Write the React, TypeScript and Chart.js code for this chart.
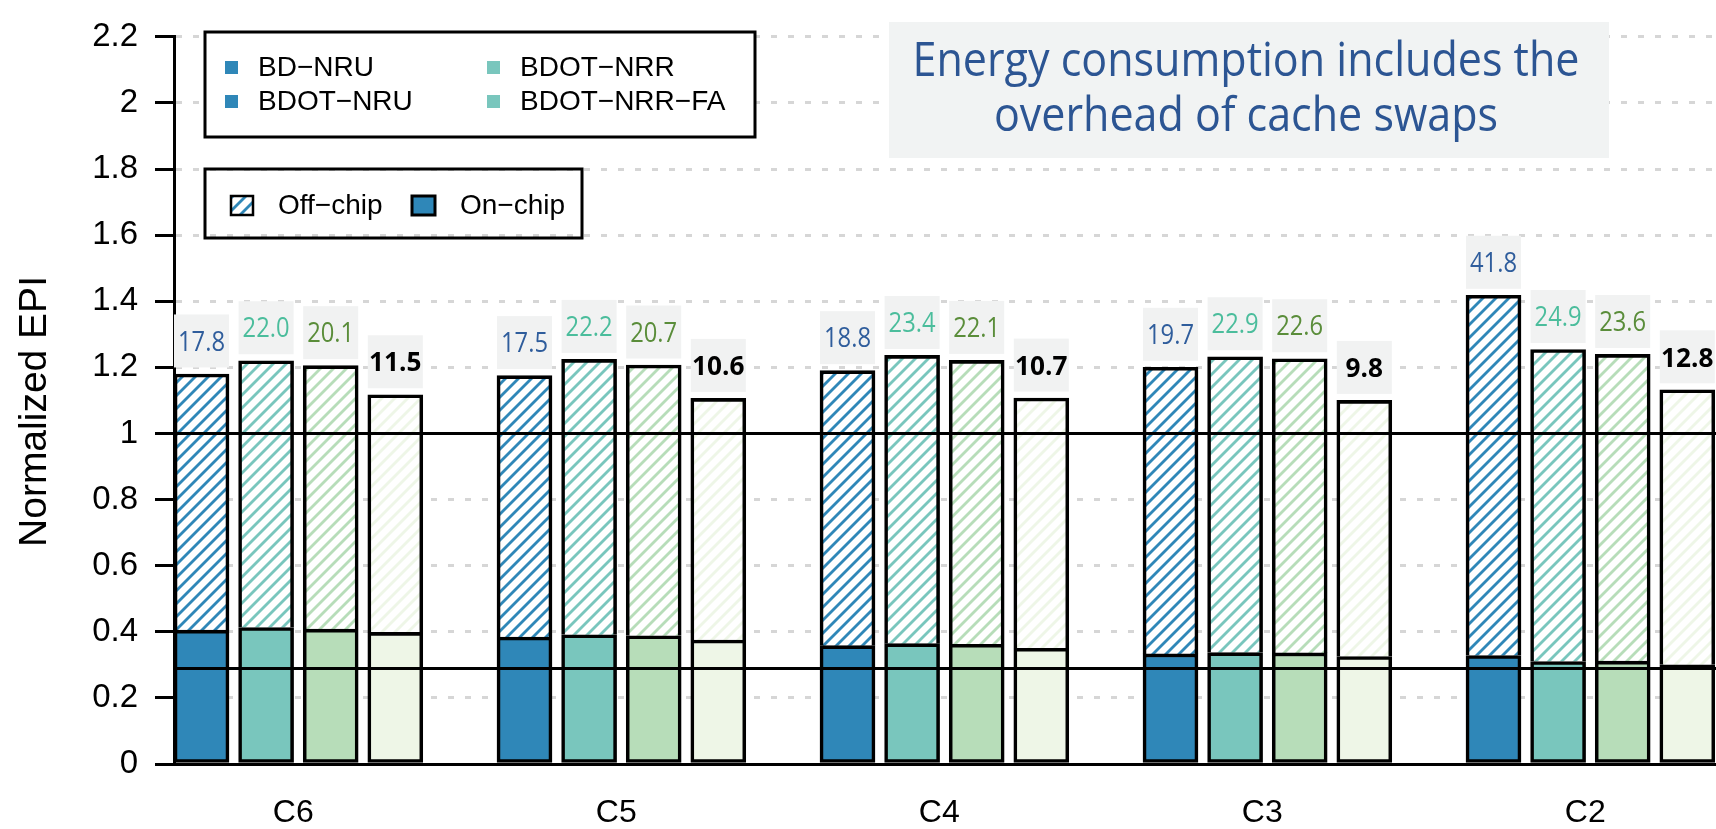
import React, { useEffect, useRef } from 'react';
import { Chart, registerables } from 'chart.js';

Chart.register(...registerables);

// ---------------- data ----------------
const groupLabels = ['C6', 'C5', 'C4', 'C3', 'C2'];
const configNames = ['BD-NRU', 'BDOT-NRU', 'BDOT-NRR', 'BDOT-NRR-FA'];
const partNames = ['Off-chip', 'On-chip'];

// on-chip part of normalized EPI
const onChipBDNRU = [0.405, 0.384, 0.358, 0.333, 0.328];
const onChipBDOTNRU = [0.413, 0.391, 0.364, 0.337, 0.31];
const onChipBDOTNRR = [0.408, 0.388, 0.362, 0.336, 0.311];
const onChipBDOTNRRFA = [0.398, 0.375, 0.35, 0.325, 0.3];

// total normalized EPI (on-chip + off-chip)
const totalBDNRU = [1.18, 1.175, 1.19, 1.2, 1.418];
const totalBDOTNRU = [1.22, 1.224, 1.236, 1.232, 1.254];
const totalBDOTNRR = [1.205, 1.207, 1.221, 1.226, 1.239];
const totalBDOTNRRFA = [1.117, 1.106, 1.107, 1.1, 1.132];

// numbers printed above the bars
const labelBDNRU = [17.8, 17.5, 18.8, 19.7, 41.8];
const labelBDOTNRU = [22.0, 22.2, 23.4, 22.9, 24.9];
const labelBDOTNRR = [20.1, 20.7, 22.1, 22.6, 23.6];
const labelBDOTNRRFA = [11.5, 10.6, 10.7, 9.8, 12.8];

const referenceLines = [1.0, 0.289];
const yMin = 0;
const yMax = 2.2;
const yStep = 0.2;

const annotationLines = ['Energy consumption includes the', 'overhead of cache swaps'];

const onChip = [onChipBDNRU, onChipBDOTNRU, onChipBDOTNRR, onChipBDOTNRRFA];
const totals = [totalBDNRU, totalBDOTNRU, totalBDOTNRR, totalBDOTNRRFA];
const valueLabels = [labelBDNRU, labelBDOTNRU, labelBDOTNRR, labelBDOTNRRFA];

// ---------------- style ----------------
const barColors = ['#2f87b8', '#79c6bd', '#b7ddb9', '#eef6e7'];
const legendColors = ['#2f87b8', '#2f87b8', '#79c6bd', '#79c6bd'];
const labelColors = ['#2f5d9c', '#4bbd9c', '#5a8d3a', '#000000'];
const labelBold = [false, false, false, true];
const SANS = "'Liberation Sans', Arial, Helvetica, sans-serif";
const HUMAN = "'Open Sans', 'Noto Sans', sans-serif";
const slotsPerGroup = 5;
const W = 1716;
const H = 829;
const BW = 3.6;

const minus = (s: string) => s.replace(/-/g, '\u2212');

function makeHatch(ctx: CanvasRenderingContext2D, color: string) {
  const s = 13;
  const c = document.createElement('canvas');
  c.width = s;
  c.height = s;
  const g = c.getContext('2d')!;
  g.fillStyle = '#ffffff';
  g.fillRect(0, 0, s, s);
  g.strokeStyle = color;
  g.lineWidth = 2.8;
  for (const off of [-s, 0, s]) {
    g.beginPath();
    g.moveTo(off - 1, s + 1);
    g.lineTo(off + s + 1, -1);
    g.stroke();
  }
  return ctx.createPattern(c, 'repeat') as CanvasPattern;
}

function condensedText(
  ctx: CanvasRenderingContext2D,
  text: string,
  cx: number,
  baseline: number,
  font: string,
  color: string,
  sx: number
) {
  ctx.save();
  ctx.translate(cx, baseline);
  ctx.scale(sx, 1);
  ctx.font = font;
  ctx.fillStyle = color;
  ctx.textAlign = 'center';
  ctx.textBaseline = 'alphabetic';
  ctx.fillText(text, 0, 0);
  ctx.restore();
}

export default function App() {
  const ref = useRef<HTMLCanvasElement | null>(null);

  useEffect(() => {
    const canvas = ref.current!;
    const ctx0 = canvas.getContext('2d')!;
    const hatches = barColors.map((c) => makeHatch(ctx0, c));
    const legendHatch = makeHatch(ctx0, legendColors[0]);

    const datasets: any[] = [];
    const offIndex: number[] = [];
    configNames.forEach((name, k) => {
      datasets.push({
        label: name + ' ' + partNames[1],
        data: groupLabels.map((_, g) => ({ x: g * slotsPerGroup + k, y: onChip[k][g] })),
        backgroundColor: barColors[k],
        borderColor: '#000',
        borderWidth: BW,
        borderSkipped: false,
      });
      offIndex.push(datasets.length);
      datasets.push({
        label: name + ' ' + partNames[0],
        data: groupLabels.map((_, g) => ({ x: g * slotsPerGroup + k, y: [onChip[k][g], totals[k][g]] })),
        backgroundColor: hatches[k],
        borderColor: '#000',
        borderWidth: { top: BW, left: BW, right: BW, bottom: 0 },
        borderSkipped: false,
      });
    });

    const overlay = {
      id: 'overlay',
      afterDatasetsDraw(chart: any) {
        const { ctx, chartArea, scales } = chart;
        const y = scales.y;
        ctx.save();
        // reference lines
        ctx.strokeStyle = '#000';
        ctx.lineWidth = 3;
        for (const v of referenceLines) {
          const py = y.getPixelForValue(v);
          ctx.beginPath();
          ctx.moveTo(chartArea.left, py);
          ctx.lineTo(chartArea.right, py);
          ctx.stroke();
        }
        // value labels
        configNames.forEach((_, k) => {
          const meta = chart.getDatasetMeta(offIndex[k]);
          meta.data.forEach((bar: any, g: number) => {
            const { x, width } = bar.getProps(['x', 'width'], true);
            const top = y.getPixelForValue(totals[k][g]);
            const cy = top - 33;
            ctx.fillStyle = '#f1f2f2';
            ctx.fillRect(x - width / 2, cy - 26.5, width, 53);
            const bold = labelBold[k];
            condensedText(
              ctx,
              valueLabels[k][g].toFixed(1),
              x,
              cy + 9.7,
              (bold ? 'bold ' : '') + '27px ' + HUMAN,
              labelColors[k],
              bold ? 0.97 : 0.88
            );
          });
        });
        ctx.restore();
      },
      afterDraw(chart: any) {
        const { ctx } = chart;
        ctx.save();
        // y title
        ctx.save();
        ctx.translate(35, 411.5);
        ctx.rotate(-Math.PI / 2);
        ctx.font = '39px ' + SANS;
        ctx.fillStyle = '#000';
        ctx.textAlign = 'center';
        ctx.textBaseline = 'middle';
        ctx.fillText('Normalized EPI', 0, 0);
        ctx.restore();

        // legend 1 (configurations)
        ctx.fillStyle = '#fff';
        ctx.fillRect(205, 32, 550, 105);
        ctx.strokeStyle = '#000';
        ctx.lineWidth = 3;
        ctx.strokeRect(205, 32, 550, 105);
        const cols = [231.5, 493.5];
        const rows = [67.5, 101.5];
        ctx.font = '28px ' + SANS;
        ctx.textAlign = 'left';
        ctx.textBaseline = 'middle';
        configNames.forEach((name, i) => {
          const cx = cols[Math.floor(i / 2)];
          const cy = rows[i % 2];
          ctx.fillStyle = legendColors[i];
          ctx.fillRect(cx - 6.5, cy - 6.5, 13, 13);
          ctx.fillStyle = '#000';
          ctx.fillText(minus(name), cx + 26.5, cy + 1);
        });

        // legend 2 (parts)
        ctx.strokeStyle = '#000';
        ctx.lineWidth = 3;
        ctx.strokeRect(205, 169, 377, 69);
        ctx.fillStyle = legendHatch;
        ctx.fillRect(231, 196, 22, 19);
        ctx.lineWidth = 2.5;
        ctx.strokeRect(231, 196, 22, 19);
        ctx.fillStyle = legendColors[0];
        ctx.fillRect(412, 196, 23, 19);
        ctx.lineWidth = 3;
        ctx.strokeRect(412, 196, 23, 19);
        ctx.fillStyle = '#000';
        ctx.font = '28px ' + SANS;
        ctx.fillText(minus(partNames[0]), 278, 206);
        ctx.fillText(minus(partNames[1]), 460, 206);

        // annotation box
        ctx.fillStyle = '#f1f3f3';
        ctx.fillRect(889, 22, 720, 136);
        const afont = '47px ' + HUMAN;
        ctx.font = afont;
        const w1 = ctx.measureText(annotationLines[0]).width;
        const sx = 667 / w1;
        condensedText(ctx, annotationLines[0], 1246, 76, afont, '#2c5593', sx);
        condensedText(ctx, annotationLines[1], 1246, 131, afont, '#2c5593', sx);
        ctx.restore();
      },
    };

    const xMin = -27.5 / 64.6;
    const xMax = xMin + (W - 174) / 64.6;

    const chart = new Chart(canvas, {
      type: 'bar',
      data: { datasets },
      options: {
        responsive: false,
        animation: false,
        devicePixelRatio: 1,
        events: [],
        layout: { padding: { top: 23.3, left: 0, right: 0, bottom: 0 } },
        plugins: { legend: { display: false }, tooltip: { enabled: false } },
        datasets: { bar: { grouped: false, barThickness: 55 } },
        scales: {
          x: {
            type: 'linear',
            offset: false,
            min: xMin,
            max: xMax,
            afterFit: (s: any) => {
              s.height = 65;
            },
            afterBuildTicks: (s: any) => {
              s.ticks = groupLabels.map((_, g) => ({ value: g * slotsPerGroup + 1.42 }));
            },
            ticks: {
              autoSkip: false,
              maxRotation: 0,
              minRotation: 0,
              padding: 30,
              color: '#000',
              font: { size: 32, family: SANS },
              callback: (_v: any, i: number) => groupLabels[i],
            },
            grid: { display: false, drawTicks: false },
            border: { display: true, color: '#000', width: 3 },
          },
          y: {
            min: yMin,
            max: yMax,
            afterFit: (s: any) => {
              s.width = 174;
            },
            ticks: {
              stepSize: yStep,
              padding: 17,
              color: '#000',
              font: { size: 33, family: SANS },
              callback: (v: any) => String(Number(Number(v).toFixed(1))),
            },
            grid: {
              color: '#d6d6d6',
              lineWidth: 3,
              tickLength: 19,
              tickWidth: 3,
              tickColor: '#000',
              tickBorderDash: [],
            },
            border: { color: '#000', width: 3, dash: [6, 11] },
          },
        },
      } as any,
      plugins: [overlay],
    });

    return () => chart.destroy();
  }, []);

  return (
    <div style={{ position: 'absolute', left: 0, top: 0, width: W, height: H, background: '#fff' }}>
      <canvas ref={ref} width={W} height={H} style={{ display: 'block', width: W, height: H }} />
    </div>
  );
}
